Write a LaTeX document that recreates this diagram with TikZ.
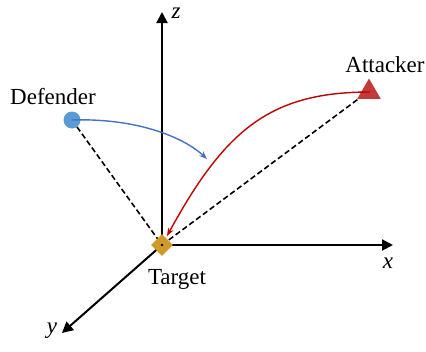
\documentclass[tikz,border=0pt]{standalone}
\usepackage{fontspec}
\setmainfont{Liberation Serif}
\usetikzlibrary{arrows.meta,shapes.geometric}
\definecolor{defblue}{HTML}{5B9BD5}
\definecolor{pathblue}{HTML}{4472C4}
\definecolor{attred}{HTML}{C23B3B}
\definecolor{pathred}{HTML}{C00000}
\definecolor{targold}{HTML}{D09A2A}
\tikzset{
  axis/.style={line width=2pt,-{Triangle[length=11pt,width=11pt]}},
  guide/.style={line width=1.6pt,dash pattern=on 5.5pt off 3pt},
  lbl/.style={font=\fontsize{23}{27}\selectfont},
  axlbl/.style={font=\fontsize{23}{27}\selectfont\itshape,inner sep=0pt},
}
\begin{document}
\begin{tikzpicture}[x=1pt,y=-1pt]
\useasboundingbox (0,0) rectangle (426,351);
\coordinate (O) at (162,245);
\coordinate (zend) at (162,12);
\coordinate (xend) at (393,245);
\coordinate (yend) at (62,333);
\coordinate (D) at (72,120);
\coordinate (A) at (369,91);
% guides
\draw[guide] (D) -- (O);
\draw[guide] (O) -- (A);
% axes
\draw[axis] (O) -- (zend);
\draw[axis] (O) -- (xend);
\draw[axis] (O) -- (yend);
% target
\node[diamond,fill=targold,minimum width=22pt,minimum height=22pt,inner sep=0pt] (T) at (O) {};
\fill (O) circle (1.3pt);
% defender
\node[circle,fill=defblue,minimum size=17pt,inner sep=0pt] (Dn) at (D) {};
% attacker
\node[regular polygon,regular polygon sides=3,fill=attred,minimum size=27pt,inner sep=0pt] (An) at (369,92) {};
% paths
\draw[pathblue,line width=1.4pt,-{Stealth[length=8pt,width=6pt]}] (D) .. controls (130,118) and (180,134) .. (207,159);
\draw[pathred,line width=1.4pt,-{Stealth[length=8pt,width=6pt]}] (370,92) .. controls (270,92) and (225,130) .. (167,236);
% labels
\node[lbl] (Dl) at (53,97) {Defender};
\node[lbl] (Al) at (385,65) {Attacker};
\node[lbl] (Tl) at (177,279) {Target};
\node[axlbl] (zl) at (176,13) {z};
\node[axlbl] (xl) at (388,263) {x};
\node[axlbl] (yl) at (52,331) {y};
\end{tikzpicture}
\end{document}
